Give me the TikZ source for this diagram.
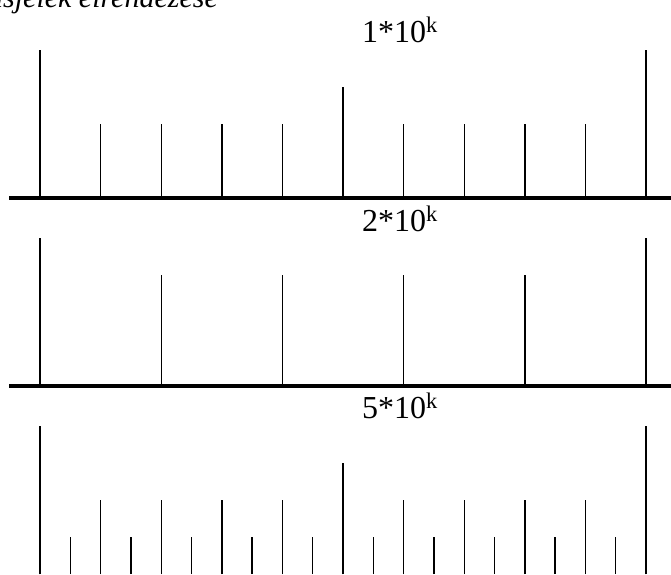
\documentclass[tikz,border=0pt]{standalone}
\usepackage{fontspec}
\setmainfont{Liberation Serif}
\begin{document}
\begin{tikzpicture}[x=1pt, y=-1pt]
        \useasboundingbox (0,0) rectangle (671,574);
        \tikzset{axisline/.style={line width=4pt},
                 tickline/.style={line width=1.4pt},
                 scalelab/.style={anchor=base west, inner sep=0pt, font=\fontsize{32}{36}\selectfont}}

        \def\xa{40}
        \def\dx{30.3}
        \def\hlong{148}
        \def\hmid{111}
        \def\hshort{74}
        \def\htiny{37}

        \node[anchor=base east, inner sep=0pt, font=\fontsize{30}{34}\selectfont\itshape] (title) at (218, 7) {Osztásjelek elrendezése};

        % 1*10^k
        \def\ya{198}
        \node[scalelab] (lab1) at (362, 42) {1*10\textsuperscript{k}};
        \draw[axisline] (9, \ya) -- (671, \ya);
        \foreach \i in {0,...,10}
            \draw[tickline] (\xa+2*\dx*\i, \ya) -- ++(0, -\hshort);
        \draw[tickline] (\xa+10*\dx, \ya) -- ++(0, -\hmid);
        \draw[tickline] (\xa, \ya) -- ++(0, -\hlong);
        \draw[tickline] (\xa+20*\dx, \ya) -- ++(0, -\hlong);

        % 2*10^k
        \def\yb{386}
        \node[scalelab] (lab2) at (362, 231) {2*10\textsuperscript{k}};
        \draw[axisline] (9, \yb) -- (671, \yb);
        \foreach \i in {0,...,5}
            \draw[tickline] (\xa+4*\dx*\i, \yb) -- ++(0, -\hmid);
        \draw[tickline] (\xa, \yb) -- ++(0, -\hlong);
        \draw[tickline] (\xa+20*\dx, \yb) -- ++(0, -\hlong);

        % 5*10^k
        \def\yc{574}
        \node[scalelab] (lab3) at (362, 418) {5*10\textsuperscript{k}};
        \foreach \i in {0,...,20}
            \draw[tickline] (\xa+\dx*\i, \yc) -- ++(0, -\htiny);
        \foreach \i in {0,...,10}
            \draw[tickline] (\xa+2*\dx*\i, \yc) -- ++(0, -\hshort);
        \draw[tickline] (\xa+10*\dx, \yc) -- ++(0, -\hmid);
        \draw[tickline] (\xa, \yc) -- ++(0, -\hlong);
        \draw[tickline] (\xa+20*\dx, \yc) -- ++(0, -\hlong);
    \end{tikzpicture}
\end{document}
